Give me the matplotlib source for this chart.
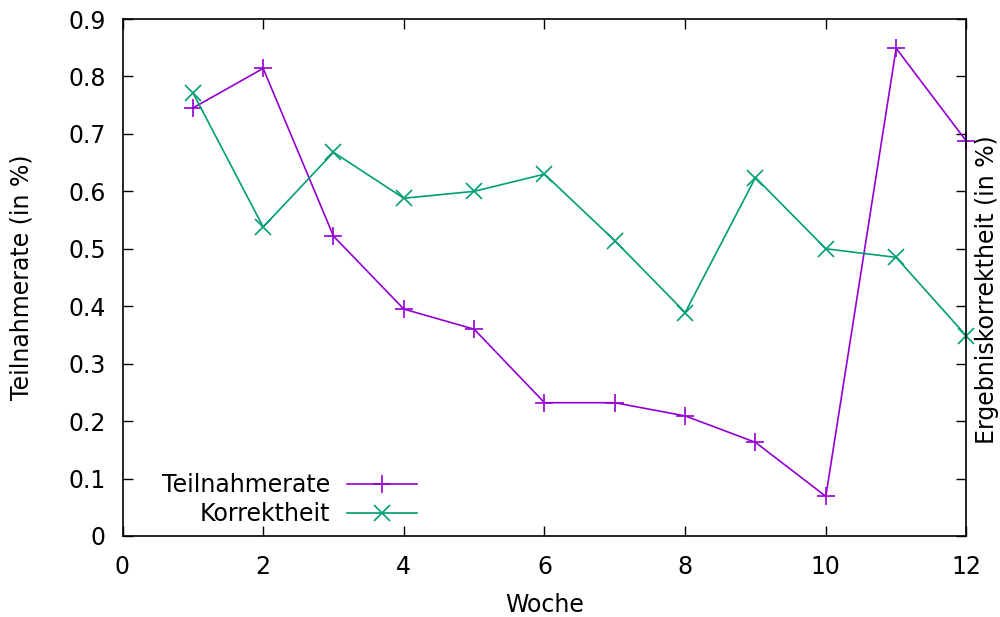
"""Teilnahmerate und Korrektheit pro Woche (gnuplot-artiger Stil)."""

import matplotlib
matplotlib.use("Agg")
import matplotlib.pyplot as plt

# Werte pro Woche
wochen = [1, 2, 3, 4, 5, 6, 7, 8, 9, 10, 11, 12]
teilnahmerate = [0.745, 0.814, 0.522, 0.395, 0.360, 0.232, 0.232, 0.209, 0.163, 0.069, 0.849, 0.687]
korrektheit = [0.772, 0.538, 0.668, 0.588, 0.600, 0.630, 0.514, 0.389, 0.624, 0.500, 0.485, 0.348]

x_ticks = [0, 2, 4, 6, 8, 10, 12]
y_ticks = [0, 0.1, 0.2, 0.3, 0.4, 0.5, 0.6, 0.7, 0.8, 0.9]

FS = 17
plt.rcParams["font.family"] = "DejaVu Sans"

fig = plt.figure(figsize=(10, 6.17), dpi=100)
ax = fig.add_axes([0.1225, 0.1313, 0.844, 0.8379])

ax.plot(wochen, teilnahmerate, color="#9400D3", lw=1.2, marker="+",
        ms=13, mew=1.2, label="Teilnahmerate", clip_on=False)
ax.plot(wochen, korrektheit, color="#009E73", lw=1.2, marker="x",
        ms=12, mew=1.2, label="Korrektheit", clip_on=False)

ax.set_xlim(0, 12)
ax.set_ylim(0, 0.9)
ax.set_xticks(x_ticks)
ax.set_yticks(y_ticks)
ax.set_yticklabels(["0"] + [f"{v:.1f}" for v in y_ticks[1:]])

ax.tick_params(direction="in", length=7, width=1, top=True, right=True,
               labelsize=FS)
ax.tick_params(axis="y", pad=12)
ax.tick_params(axis="x", pad=14)
for s in ax.spines.values():
    s.set_linewidth(1.2)

ax.set_xlabel("Woche", fontsize=FS, labelpad=10)
ax.set_ylabel("Teilnahmerate (in %)", fontsize=FS)
ax.yaxis.set_label_coords(-0.106, 0.5)
fig.text(0.987, 1 - 290 / 617, "Ergebniskorrektheit (in %)", rotation=90,
         ha="center", va="center", fontsize=FS)

ax.legend(loc="lower right", bbox_to_anchor=(0.3495, 0.019), frameon=False,
          markerfirst=False, fontsize=FS, handlelength=3.0,
          labelspacing=0.2, handletextpad=0.7, borderaxespad=0, borderpad=0)

fig.savefig("out.png", dpi=100)
